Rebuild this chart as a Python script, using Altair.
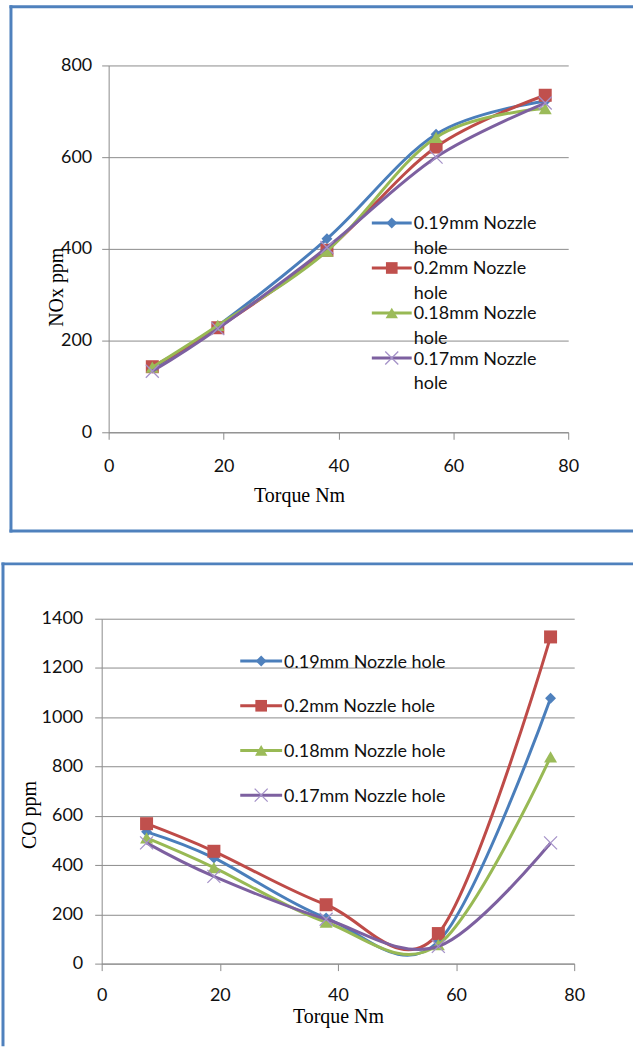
import altair as alt
import pandas as pd

# ---------------- data ----------------
torque = [7.6, 19, 38, 57, 76]
series = ["0.19mm Nozzle hole", "0.2mm Nozzle hole", "0.18mm Nozzle hole", "0.17mm Nozzle hole"]

nox_019 = [140, 232, 422, 650, 722]
nox_020 = [143, 228, 397, 622, 735]
nox_018 = [142, 233, 395, 643, 706]
nox_017 = [133, 226, 403, 600, 718]

co_019 = [535, 429, 185, 90, 1077]
co_020 = [568, 456, 239, 122, 1326]
co_018 = [510, 390, 168, 77, 839]
co_017 = [490, 354, 180, 70, 490]

x_ticks = [0, 20, 40, 60, 80]
nox_ticks = [0, 200, 400, 600, 800]
co_ticks = [0, 200, 400, 600, 800, 1000, 1200, 1400]

# ---------------- styles ----------------
line_colors = ["#4A7EBB", "#BE4B48", "#98B954", "#7D60A0"]
marker_colors = ["#4F81BD", "#C0504D", "#9BBB59", "#A592C8"]
shapes = ["diamond", "square", "triangle-up", "M-1,-1L1,1M-1,1L1,-1"]
marker_sizes = [120, 170, 170, 170]
border_color = "#4F81BD"
axis_color = "#8C8C8C"
SANS = "Lato"
SERIF = "Liberation Serif"


def long_df(values_list):
    rows = []
    for s, vals in zip(series, values_list):
        for t, v in zip(torque, vals):
            rows.append({"torque": t, "value": v, "series": s})
    return pd.DataFrame(rows)


def panel(values_list, ytitle, yticks, width, height, g):
    df = long_df(values_list)
    ymax = yticks[-1]
    x_enc = alt.X(
        "torque:Q",
        scale=alt.Scale(domain=[0, 80], nice=False, range=g["x_range"]),
        axis=alt.Axis(
            values=x_ticks, title="Torque Nm", grid=False,
            titleFont=SERIF, titleFontSize=20, titleFontWeight="normal", titleColor="black",
            titleX=g["xtitle_x"], titleY=g["xtitle_y"], titleAlign="center", titleBaseline="alphabetic",
            labelFont=SANS, labelFontSize=18, labelColor="#111111", labelFlush=False,
            labelPadding=g["xlabel_pad"], tickSize=7, tickColor=axis_color, domainColor=axis_color,
        ),
    )
    y_enc = alt.Y(
        "value:Q",
        scale=alt.Scale(domain=[0, ymax], nice=False),
        axis=alt.Axis(
            values=yticks, title=ytitle, grid=True, gridColor=axis_color, format="d",
            offset=g["y_offset"],
            titleFont=SERIF, titleFontSize=20, titleFontWeight="normal", titleColor="black",
            titleX=g["ytitle_x"], titleY=g["ytitle_y"], titleAlign="center", titleBaseline="alphabetic",
            titleAngle=270,
            labelFont=SANS, labelFontSize=18, labelColor="#111111",
            labelPadding=g["ylabel_pad"], tickSize=7, tickColor=axis_color, domainColor=axis_color,
        ),
    )
    layers = []
    for i, s in enumerate(series):
        base = alt.Chart(df).transform_filter(alt.datum.series == s)
        layers.append(
            base.mark_line(interpolate="cardinal", tension=0, strokeWidth=3, color=line_colors[i]).encode(x=x_enc, y=y_enc)
        )
        if i < 3:
            pts = base.mark_point(filled=True, shape=shapes[i], size=marker_sizes[i], color=marker_colors[i], opacity=1, strokeWidth=0)
        else:
            pts = base.mark_point(filled=False, shape=shapes[i], size=marker_sizes[i], color=marker_colors[i], opacity=1, strokeWidth=1.3)
        layers.append(pts.encode(x=x_enc, y=y_enc))
    main = alt.layer(*layers)

    # legend built from the series names
    labels = [s.replace(" hole", "\nhole") for s in series] if g["wrap"] else list(series)
    leg_df = pd.DataFrame({"series": series, "label": labels})
    ly = alt.Y("series:N", scale=alt.Scale(type="point", domain=series, range=g["leg_y"], padding=0), axis=None)
    leg_rule = alt.Chart(leg_df).mark_rule(strokeWidth=3).encode(
        x=alt.value(g["leg_x0"]), x2=alt.value(g["leg_x1"]), y=ly,
        color=alt.Color("series:N", scale=alt.Scale(domain=series, range=line_colors), legend=None),
    )
    leg_fill = alt.Chart(leg_df).transform_filter(alt.datum.series != series[3]).mark_point(
        filled=True, opacity=1, strokeWidth=0
    ).encode(
        x=alt.value(g["leg_xm"]), y=ly,
        fill=alt.Fill("series:N", scale=alt.Scale(domain=series, range=marker_colors), legend=None),
        shape=alt.Shape("series:N", scale=alt.Scale(domain=series, range=shapes), legend=None),
        size=alt.Size("series:N", scale=alt.Scale(domain=series, range=marker_sizes), legend=None),
    )
    leg_x = alt.Chart(leg_df).transform_filter(alt.datum.series == series[3]).mark_point(
        filled=False, shape=shapes[3], size=marker_sizes[3], color=marker_colors[3], opacity=1, strokeWidth=1.3
    ).encode(x=alt.value(g["leg_xm"]), y=ly)
    leg_text = alt.Chart(leg_df).mark_text(
        align="left", baseline="alphabetic", lineBreak="\n", lineHeight=24.5,
        font=SANS, fontSize=18, color="#111111", dy=6.5,
    ).encode(x=alt.value(g["leg_xt"]), y=ly, text="label:N")
    legend = alt.layer(leg_rule, leg_fill, leg_x, leg_text)

    # panel frame (decoration)
    one = pd.DataFrame({"k": [0]})
    deco = []
    deco.append(alt.Chart(one).mark_rule(color="white", strokeWidth=1).encode(
        x=alt.value(g["corner"][0]), x2=alt.value(g["corner"][0] + 1),
        y=alt.value(g["corner"][1]), y2=alt.value(g["corner"][1])))
    for (xa, ya, xb, yb) in g["borders"]:
        deco.append(alt.Chart(one).mark_rule(color=border_color, strokeWidth=3).encode(
            x=alt.value(xa), x2=alt.value(xb), y=alt.value(ya), y2=alt.value(yb)))
    frame = alt.layer(*deco)

    return alt.layer(frame, main, legend).resolve_scale(y="independent").properties(width=width, height=height)


# both panels share a group origin at x=101 (page pixels)
# top panel: axis at x=108, plot top y=64
g_top = dict(
    x_range=[7, 468], y_offset=-7,
    xtitle_x=198, xtitle_y=69, xlabel_pad=18,
    ytitle_x=-46, ytitle_y=222, ylabel_pad=10,
    wrap=True, leg_y=[158, 293.5], leg_x0=271, leg_x1=311, leg_xm=291, leg_xt=313,
    corner=(-100.5, -63.5),
    borders=[(-92.5, -59, 533, -59), (-91, -60.5, -91, 468.5), (-92.5, 467, 533, 467)],
)
# bottom panel: plot origin at (101, 619)
g_bot = dict(
    x_range=[0, 474], y_offset=0,
    xtitle_x=237, xtitle_y=59, xlabel_pad=16,
    ytitle_x=-66, ytitle_y=196.5, ylabel_pad=12,
    wrap=False, leg_y=[42.5, 177], leg_x0=139, leg_x1=181, leg_xm=160, leg_xt=183,
    corner=(-100.5, -84),
    borders=[(-100.5, -55, 533, -55), (-99, -56.5, -99, 429)],
)

top = panel([nox_019, nox_020, nox_018, nox_017], "NOx ppm", nox_ticks, 468, 368, g_top)
bottom = panel([co_019, co_020, co_018, co_017], "CO ppm", co_ticks, 474, 346, g_bot)

chart = alt.vconcat(top, bottom, spacing=0).properties(
    padding=0, background="white"
).configure_view(strokeWidth=0)

chart.save("out.html", embed_options={"renderer": "svg", "actions": False})
